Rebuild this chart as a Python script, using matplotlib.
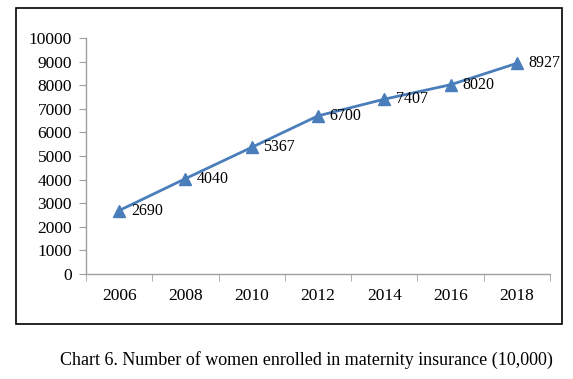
import matplotlib
matplotlib.use("Agg")
import matplotlib.pyplot as plt
from matplotlib.patches import Rectangle

years = ["2006", "2008", "2010", "2012", "2014", "2016", "2018"]
values = [2690, 4040, 5367, 6700, 7407, 8020, 8927]
yticks = list(range(0, 10001, 1000))
caption = "Chart 6. Number of women enrolled in maternity insurance (10,000)"

serif = ["Liberation Serif", "DejaVu Serif"]
fig = plt.figure(figsize=(5.73, 3.79), dpi=100)
fig.patch.set_facecolor("white")

# outer frame
fig.patches.append(Rectangle((16/573, 1-324/379), (562-16)/573, (324-8)/379,
                             transform=fig.transFigure, fill=False,
                             edgecolor="black", linewidth=1.2))

ax = fig.add_axes([86/573, 1-274/379, (550-86)/573, (274-38)/379])
x = list(range(len(years)))
ax.plot(x, values, color="#4A7EBB", linewidth=2, marker="^", markersize=9,
        markerfacecolor="#4A7EBB", markeredgecolor="#4A7EBB", clip_on=False)
for xi, v in zip(x, values):
    ax.annotate(str(v), (xi, v), xytext=(8.5, 0), textcoords="offset points",
                va="center", ha="left", fontsize=11.5, family=serif, color="black")

ax.set_xlim(-0.5, len(years) - 0.5)
ax.set_ylim(0, 10000)
ax.set_yticks(yticks)
ax.set_yticklabels([str(t) for t in yticks], family=serif, fontsize=12.5)
ax.set_xticks(x)
ax.set_xticklabels(years, family=serif, fontsize=12.5)
ax.set_xticks([i - 0.5 for i in range(len(years) + 1)], minor=True)
ax.tick_params(axis="x", which="major", length=0, pad=10)
ax.tick_params(axis="x", which="minor", length=5, color="#A0A0A0", direction="out")
ax.tick_params(axis="y", length=5, color="#A0A0A0", direction="out", pad=5)
for s in ["top", "right"]:
    ax.spines[s].set_visible(False)
for s in ["left", "bottom"]:
    ax.spines[s].set_color("#A0A0A0")
    ax.spines[s].set_linewidth(1)

fig.text(553/573, 1-360/379, caption, ha="right", va="center",
         fontsize=13, family=serif, color="black")

fig.savefig("out.png", dpi=100, facecolor="white")
